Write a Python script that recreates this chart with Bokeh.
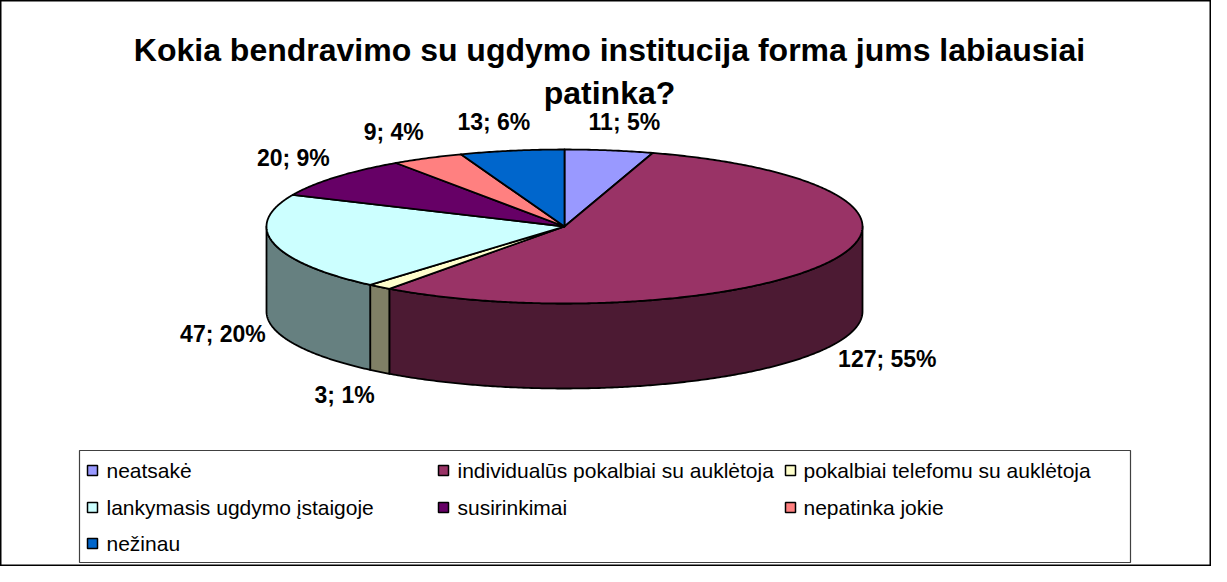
import numpy as np
from bokeh.plotting import figure
from bokeh.models import Range1d
from bokeh.core.properties import value
from bokeh.embed import file_html
from bokeh.resources import INLINE

# ---------------- data ----------------
title_lines = ["Kokia bendravimo su ugdymo institucija forma jums labiausiai", "patinka?"]
categories = ["neatsakė", "individualūs pokalbiai su auklėtoja", "pokalbiai telefomu su auklėtoja",
              "lankymasis ugdymo įstaigoje", "susirinkimai", "nepatinka jokie", "nežinau"]
counts = [11, 127, 3, 47, 20, 9, 13]
top_colors = ["#9999FF", "#993366", "#FFFFCC", "#CCFFFF", "#660066", "#FF8080", "#0066CC"]
side_colors = ["#4C4C80", "#4C1A33", "#808066", "#668080", "#330033", "#804040", "#003366"]

# ---------------- layout / style ----------------
W, H = 1211, 566
FONT = value("Liberation Sans")
cx, cy, rx, ry, depth = 572.0, 234.0, 298.0, 77.0, 85.0

p = figure(width=W, height=H, x_range=Range1d(8, 8 + W), y_range=Range1d(8 + H, 8),
           output_backend="svg", toolbar_location=None, min_border=0,
           x_axis_location=None, y_axis_location=None)
p.grid.visible = False
p.outline_line_color = "black"
p.outline_line_width = 2
p.background_fill_color = "white"
p.border_fill_color = "white"

total = float(sum(counts))
bounds = np.concatenate([[0.0], np.cumsum(counts)]) / total * 360.0


def ex(t):
    return cx + rx * np.sin(np.radians(t))


def ey(t):
    return cy - ry * np.cos(np.radians(t))


# side walls (front half: 90..270 deg clockwise from top)
sxs, sys_, scol = [], [], []
for i in range(len(counts)):
    lo, hi = max(bounds[i], 90.0), min(bounds[i + 1], 270.0)
    if hi <= lo:
        continue
    t = np.linspace(lo, hi, max(int((hi - lo) * 2), 4))
    xs = list(ex(t)) + list(ex(t[::-1]))
    ys = list(ey(t)) + list(ey(t[::-1]) + depth)
    sxs.append(xs)
    sys_.append(ys)
    scol.append(side_colors[i])
p.patches(sxs, sys_, fill_color=scol, line_color="black", line_width=1.8, line_join="round")

# top faces
txs, tys = [], []
for i in range(len(counts)):
    a0, a1 = bounds[i], bounds[i + 1]
    t = np.linspace(a0, a1, max(int((a1 - a0) * 2), 4))
    txs.append([cx] + list(ex(t)))
    tys.append([cy] + list(ey(t)))
p.patches(txs, tys, fill_color=top_colors, line_color="black", line_width=1.8, line_join="round")

# data labels
Rx_lab, Ry_lab, Rx_center = 306.0, 106.0, 400.0
groups = {"left": dict(x=[], y=[], t=[]), "right": dict(x=[], y=[], t=[]), "center": dict(x=[], y=[], t=[])}
for i, c in enumerate(counts):
    mid = np.radians((bounds[i] + bounds[i + 1]) / 2)
    s, co = np.sin(mid), np.cos(mid)
    if abs(s) < 0.3:
        al, rr = "center", Rx_center
    elif s > 0:
        al, rr = "left", Rx_lab
    else:
        al, rr = "right", Rx_lab
    x = cx + rr * s
    y = cy - Ry_lab * co + (depth if co < 0 else 0)
    groups[al]["x"].append(x)
    groups[al]["y"].append(y)
    groups[al]["t"].append(f"{c}; {round(c / total * 100)}%")
for al, g in groups.items():
    if g["x"]:
        p.text(x=g["x"], y=g["y"], text=g["t"], text_align=al, text_baseline="middle",
               text_font=FONT, text_font_style="bold", text_font_size="23px", text_color="black")

# title
p.text(x=[617, 617], y=[57, 100], text=title_lines, text_align="center", text_baseline="alphabetic",
       text_font=FONT, text_font_style="bold", text_font_size="32px", text_color="black")

# legend
p.quad(left=[87], right=[1138], top=[458], bottom=[570], fill_color="white",
       line_color="#404040", line_width=1.2)
sq_x_cols = [100, 451, 798]
tx_cols = [114, 465, 811]
row_y = [478, 515, 551]
lsx, lsy, ltx, lty = [], [], [], []
for i, name in enumerate(categories):
    r, c = divmod(i, 3)
    lsx.append(sq_x_cols[c])
    lsy.append(row_y[r])
    ltx.append(tx_cols[c])
    lty.append(row_y[r])
p.scatter(lsx, lsy, marker="square", size=10, fill_color=top_colors, line_color="black", line_width=1.5)
p.text(x=ltx, y=lty, text=categories, text_align="left", text_baseline="middle",
       text_font=FONT, text_font_size="21px", text_color="black")

open("out.html", "w").write(file_html(p, INLINE))
